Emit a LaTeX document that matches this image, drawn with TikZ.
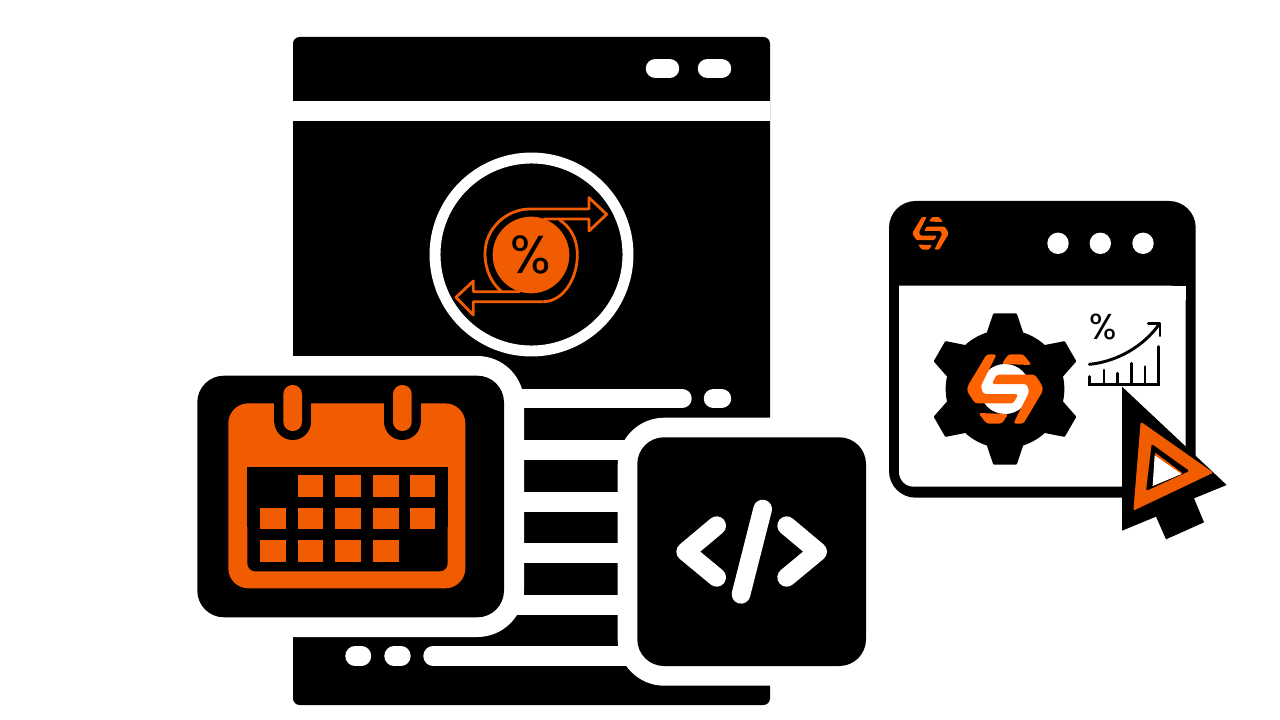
\documentclass[tikz,border=0pt]{standalone}
\usepackage{fontspec}
\setmainfont{Liberation Sans}
\newfontfamily\ratefont{Poppins}
\definecolor{iconorange}{HTML}{F25C00}
\definecolor{logoorange}{HTML}{FF6200}
\tikzset{
  whitebar/.style={white, line width=14.6pt, line cap=round},
  outline/.style={iconorange, line width=2.1pt, line join=round},
  chartline/.style={black, line width=2.2pt},
  codemark/.style={white, line width=14pt, line cap=round, line join=round},
}
% logo, drawn round its centre
\newcommand{\logomark}[1]{
\fill[logoorange, rounded corners=#1](-55,-104)--(-25,-104)--(-73,-8)--(-65,15)--(40,15)--(25,43)--(-90,43)--(-113,8)--(-113,-7)--cycle;
\fill[logoorange, rounded corners=#1](55,104)--(25,104)--(73,8)--(65,-15)--(-40,-15)--(-25,-43)--(90,-43)--(113,-8)--(113,7)--cycle;
\fill[logoorange, rounded corners=#1](-10,-75)--(10,-104)--(55,-104)--(80,-72)--cycle;
\fill[logoorange, rounded corners=#1](10,75)--(-10,104)--(-55,104)--(-80,72)--cycle;
}
\begin{document}
\begin{tikzpicture}[x=.75pt, y=-.75pt]
\useasboundingbox (0,0) rectangle (1280,720);
\fill[white](0,0) rectangle (1280,720);

% main window
\fill[black, rounded corners=5pt](293,37) rectangle (770,705);
\fill[white](293,101) rectangle (770,121);
\draw[whitebar](655.5,68.5)--(669.5,68.5);
\draw[whitebar](707.5,68.5)--(721.5,68.5);

% bars
\draw[whitebar](500,398.5)--(682,398.5);
\draw[whitebar](713.5,398.5)--(721.5,398.5);
\foreach \y in {450,502,553,605}
  \draw[whitebar](500,\y)--(640,\y);
\draw[whitebar](433,656)--(640,656);
\draw[whitebar](355,656)--(361.5,656);
\draw[whitebar](394,656)--(401,656);

% percent circle
\draw[white, line width=8.2pt](531.5,254.5) circle (96.5);
\begin{scope}[shift={(420,145)}, x=.25pt, y=-.25pt]
\draw[outline](370,470) .. controls (430,470) and (472,400) .. (472,330) .. controls (472,280) and (450,245) .. (418,224);
\draw[outline](300,440)--(160,440)--(160,408)--(108,457)--(160,510)--(160,470)--(370,470);
\draw[outline](245,440) .. controls (215,415) and (195,375) .. (195,325) .. controls (195,250) and (260,192) .. (330,192)--(507,192)--(507,158)--(560,208)--(507,258)--(507,222)--(370,222);
\fill[iconorange](333,330) circle (115);
\node (ratemark) at (333,330) {\ratefont\fontsize{40pt}{40pt}\selectfont\%};
\end{scope}

% calendar
\fill[white, rounded corners=35pt](177,356) rectangle (524,637);
\fill[black, rounded corners=20pt](197.3,375.7) rectangle (504,617.3);
\begin{scope}[shift={(190,360)}, x=.25pt, y=-.25pt]
\fill[iconorange, rounded corners=15pt](115,130) rectangle (826,685);
\fill[black, rounded corners=6pt](172,400) rectangle (773,634);
\fill[black](172,320) rectangle (773,500);
\foreach \x in {308,637}{
  \fill[black](\x-55,70) rectangle (\x+55,190);
  \fill[black](\x,185) circle (55);
  \fill[iconorange, rounded corners=6.8pt](\x-28,75) rectangle (\x+28,213);
}
\foreach \x/\y in {323/346,436/346,549/346,659/346,210/443,323/443,436/443,549/443,659/443,210/541,323/541,436/541,549/541}
  \fill[iconorange](\x,\y) rectangle ++(77,65);
\end{scope}

% code box
\fill[white, rounded corners=35pt](617.7,417.7) rectangle (886,685.7);
\fill[black, rounded corners=20pt](637.3,437.3) rectangle (866,666);
\begin{scope}[shift={(500,380)}, x=.25pt, y=-.25pt]
\draw[codemark](650,437)--(557,515)--(650,592);
\draw[codemark](860,437)--(953,515)--(860,592);
\draw[codemark](788,387)--(723,643);
\end{scope}

% small window
\fill[black, rounded corners=20pt](889,201) rectangle (1195.7,497.7);
\fill[white, rounded corners=11pt](899,285.7)--(899,486.7)--(1185.7,486.7)--(1185.7,285.7)[sharp corners]--cycle;
\fill[white](899,285.7) rectangle (1185.7,300);
\foreach \x in {1058,1100.3,1143}
  \fill[white](\x,243.3) circle (10.7);
\begin{scope}[shift={(930.5,233.3)}, x=.1175pt, y=-.1175pt]
\logomark{.8pt}
\end{scope}

% gear
\begin{scope}[shift={(1005,389)}, x=.25pt, y=-.25pt]
\fill[black](0,0) circle (178);
\foreach \a in {0,60,...,300}
  \fill[black, rotate=\a, rounded corners=.6pt](-55,-168)--(-35,-227)--(35,-227)--(55,-168)--cycle;
\fill[white](0,0) circle (75);
\logomark{2pt}
\end{scope}

% chart
\begin{scope}[shift={(1080,305)}, x=.25pt, y=-.25pt]
\node (chartrate) at (70,65) {\ratefont\fontsize{27pt}{27pt}\selectfont\%};
\draw[chartline, line cap=round](28,178) .. controls (110,170) and (190,125) .. (238,57);
\draw[chartline, line cap=round, line join=round](205,55)--(240,55)--(240,92);
\draw[chartline, line cap=round](235,125)--(235,238)--(28,238)--(28,215);
\foreach \x/\y in {72/195,113/205,155/175,195/185}
  \draw[chartline, line cap=round](\x,238)--(\x,\y);
\end{scope}

% cursor
\begin{scope}[shift={(880,190)}, x=.25pt, y=-.25pt]
\fill[black](726,590)--(1040,885)--(942,925)--(972,997)--(858,1048)--(828,980)--(726,1022)--cycle;
\fill[iconorange, rounded corners=1.5pt](782,695)--(1000,848)--(760,962)--cycle;
\fill[black, rounded corners=1.5pt](815,762)--(928,843)--(798,903)--cycle;
\fill[iconorange](826,788)--(908,850)--(818,888)--cycle;
\fill[white](824,796)--(904,852)--(818,888)--cycle;
\end{scope}
\end{tikzpicture}
\end{document}
